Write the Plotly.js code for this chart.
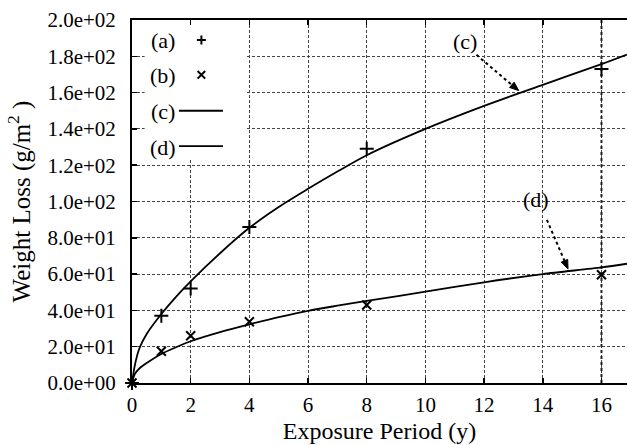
<!DOCTYPE html>
<html>
<head>
<meta charset="utf-8">
<script src="https://cdn.plot.ly/plotly-3.0.1.min.js"></script>
<style>html,body{margin:0;padding:0;background:#fff;}</style>
</head>
<body>
<div id="chart" style="width:627px;height:445px;"></div>
<script>
// Measured points
var xPoints = [0, 1, 2, 4, 8, 16];
var seriesA = [0, 37, 52, 86, 129, 173];
var seriesB = [0, 17.5, 26, 33.7, 43, 59.6];

// Fitted curves
var xCurve = [0, 0.1, 0.25, 0.5, 1, 1.5, 2, 3, 4, 5, 6, 7, 8, 10, 12, 14, 16, 16.87];
var curveC = [0, 10, 19, 27, 38, 47.5, 56, 71.5, 85.5, 97, 107, 116.5, 125.5, 140, 152.7, 164.3, 175.7, 181];
var curveD = [0, 5, 8, 11, 16, 19.7, 23, 28, 32.3, 36.3, 39.8, 42.6, 45.2, 50.3, 55.5, 60, 63.7, 65.7];

// Axis ticks
var xTickVals = [0, 2, 4, 6, 8, 10, 12, 14, 16];
var xTickText = ['0', '2', '4', '6', '8', '10', '12', '14', '16'];
var yTickVals = [0, 20, 40, 60, 80, 100, 120, 140, 160, 180, 200];
var yTickText = ['0.0e+00', '2.0e+01', '4.0e+01', '6.0e+01', '8.0e+01', '1.0e+02',
                 '1.2e+02', '1.4e+02', '1.6e+02', '1.8e+02', '2.0e+02'];

// Labels
var legendLabels = ['(a)', '(b)', '(c)', '(d)'];
var xTitle = 'Exposure Period (y)';
var yTitle = 'Weight Loss (g/m<sup>2</sup> )';

var FONT = 'Liberation Serif';

var traces = [
  {x: xCurve, y: curveC, mode: 'lines', line: {color: '#000', width: 1.8, shape: 'spline', smoothing: 0.8}, hoverinfo: 'skip', showlegend: false},
  {x: xCurve, y: curveD, mode: 'lines', line: {color: '#000', width: 1.8, shape: 'spline', smoothing: 0.8}, hoverinfo: 'skip', showlegend: false},
  {x: xPoints, y: seriesA, mode: 'markers', cliponaxis: false,
   marker: {symbol: 'cross-thin-open', size: 10, color: '#000', line: {color: '#000', width: 2}}, showlegend: false},
  {x: xPoints, y: seriesB, mode: 'markers', cliponaxis: false,
   marker: {symbol: 'x-thin-open', size: 9, color: '#000', line: {color: '#000', width: 2}}, showlegend: false}
];

var shapes = [
  // heavier dotted grid line at x = 16
  {type: 'line', xref: 'x', yref: 'y', x0: 16, x1: 16, y0: 0, y1: 200, layer: 'between',
   line: {color: '#222', width: 2, dash: 'dot'}},
  // legend background
  {type: 'rect', xref: 'x', yref: 'y', x0: 0.43, x1: 3.9, y0: 123, y1: 200, layer: 'between',
   fillcolor: '#fff', line: {width: 0}},
  // legend symbols
  {type: 'path', xref: 'x', yref: 'y', xsizemode: 'pixel', ysizemode: 'pixel', xanchor: 2.365, yanchor: 189,
   path: 'M-4.5,0 L4.5,0 M0,-4.5 L0,4.5', line: {color: '#000', width: 2}},
  {type: 'path', xref: 'x', yref: 'y', xsizemode: 'pixel', ysizemode: 'pixel', xanchor: 2.365, yanchor: 169.8,
   path: 'M-3.8,-3.8 L3.8,3.8 M-3.8,3.8 L3.8,-3.8', line: {color: '#000', width: 2}},
  {type: 'line', xref: 'x', yref: 'y', x0: 1.6, x1: 3.1, y0: 150, y1: 150, line: {color: '#000', width: 1.8}},
  {type: 'line', xref: 'x', yref: 'y', x0: 1.6, x1: 3.1, y0: 130.5, y1: 130.5, line: {color: '#000', width: 1.8}},
  // dotted arrow shafts
  {type: 'line', xref: 'x', yref: 'y', x0: 11.74, y0: 180.8, x1: 12.94, y1: 164.3, line: {color: '#000', width: 2, dash: 'dot'}},
  {type: 'line', xref: 'x', yref: 'y', x0: 14.14, y0: 89.9, x1: 14.74, y1: 67.3, line: {color: '#000', width: 2, dash: 'dot'}},
  // arrow heads
  {type: 'path', xref: 'x', yref: 'y', xsizemode: 'pixel', ysizemode: 'pixel', xanchor: 13.18, yanchor: 161.1,
   path: 'M0,0 L-4.64,8.47 L-9.16,3.13 Z', fillcolor: '#000', line: {color: '#000', width: 1}},
  {type: 'path', xref: 'x', yref: 'y', xsizemode: 'pixel', ysizemode: 'pixel', xanchor: 14.86, yanchor: 62.8,
   path: 'M0,0 L-0.31,9.65 L-6.75,6.91 Z', fillcolor: '#000', line: {color: '#000', width: 1}}
];

var annotations = [
  {xref: 'x', yref: 'y', x: 1.057, y: 188.5, text: legendLabels[0], showarrow: false, font: {family: FONT, size: 22, color: '#000'}},
  {xref: 'x', yref: 'y', x: 1.057, y: 169.2, text: legendLabels[1], showarrow: false, font: {family: FONT, size: 22, color: '#000'}},
  {xref: 'x', yref: 'y', x: 1.057, y: 149.5, text: legendLabels[2], showarrow: false, font: {family: FONT, size: 22, color: '#000'}},
  {xref: 'x', yref: 'y', x: 1.057, y: 129.8, text: legendLabels[3], showarrow: false, font: {family: FONT, size: 22, color: '#000'}},
  {xref: 'x', yref: 'y', x: 11.34, y: 188.1, text: '(c)', showarrow: false, font: {family: FONT, size: 22, color: '#000'}},
  {xref: 'x', yref: 'y', x: 13.78, y: 100.9, text: '(d)', showarrow: false, font: {family: FONT, size: 22, color: '#000'}}
];

var layout = {
  width: 627, height: 445,
  margin: {l: 132, r: 0, t: 20, b: 62, pad: 0},
  paper_bgcolor: '#fff', plot_bgcolor: '#fff',
  font: {family: FONT, size: 21, color: '#000'},
  showlegend: false,
  xaxis: {
    range: [0, 16.87], tickvals: xTickVals, ticktext: xTickText,
    showgrid: true, gridcolor: '#444', gridwidth: 1, griddash: '3px,2px',
    zeroline: false, showline: true, linecolor: '#000', linewidth: 2, mirror: 'ticks',
    ticks: 'inside', ticklen: 5, tickwidth: 1.5, tickcolor: '#000',
    tickfont: {family: FONT, size: 21, color: '#000'}, ticklabelstandoff: 2,
    title: {text: xTitle, font: {family: FONT, size: 24, color: '#000'}, standoff: 6}
  },
  yaxis: {
    range: [0, 200], tickvals: yTickVals, ticktext: yTickText,
    showgrid: true, gridcolor: '#444', gridwidth: 1, griddash: '3px,2px',
    zeroline: false, showline: true, linecolor: '#000', linewidth: 2, mirror: false,
    ticks: 'inside', ticklen: 5, tickwidth: 1.5, tickcolor: '#000',
    tickfont: {family: FONT, size: 21, color: '#000'}, ticklabelstandoff: 10,
    title: {text: yTitle, font: {family: FONT, size: 25, color: '#000'}, standoff: 10}
  },
  shapes: shapes,
  annotations: annotations
};

Plotly.newPlot('chart', traces, layout, {displayModeBar: false, staticPlot: true});
</script>
</body>
</html>
